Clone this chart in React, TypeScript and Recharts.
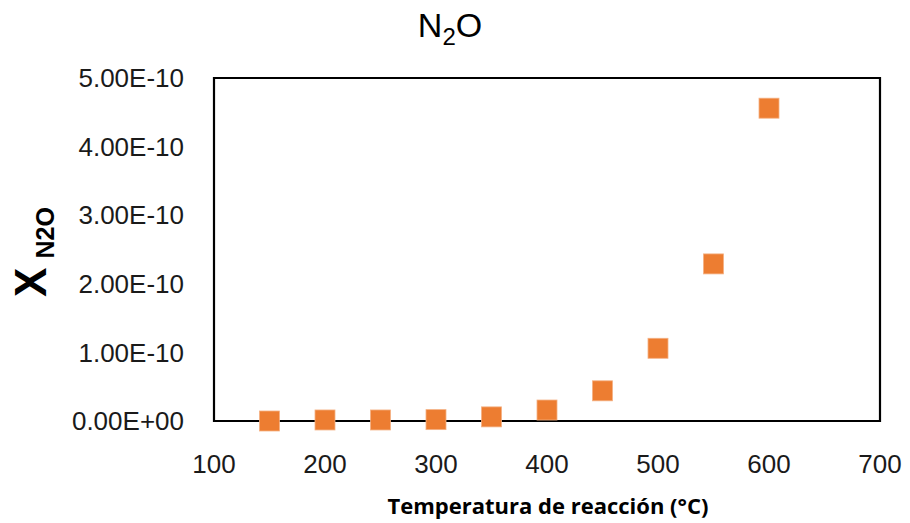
import { ScatterChart, Scatter, XAxis, YAxis, ReferenceArea } from 'recharts';

const temps = [150, 200, 250, 300, 350, 400, 450, 500, 550, 600];
const xN2O = [0.0, 1.5e-12, 1.5e-12, 2.0e-12, 6.0e-12, 1.6e-11, 4.4e-11, 1.06e-10, 2.29e-10, 4.56e-10];
const xTicks = [100, 200, 300, 400, 500, 600, 700];
const yTicks = [0, 1e-10, 2e-10, 3e-10, 4e-10, 5e-10];

const data = temps.map((t, i) => ({ t, x: xN2O[i] }));

const W = 910;
const H = 523;
const ORANGE = '#ED7D31';
const tickFont = { fill: '#1a1a1a', fontSize: 26, fontFamily: 'Liberation Sans, Arial, sans-serif' };

// Excel style scientific label: 5.00E-10, 0.00E+00
function sci(v: number): string {
  if (v === 0) return '0.00E+00';
  const exp = Math.floor(Math.log10(Math.abs(v)));
  const m = v / Math.pow(10, exp);
  const e = Math.abs(exp).toString().padStart(2, '0');
  return `${m.toFixed(2)}E${exp < 0 ? '-' : '+'}${e}`;
}

const Square = (p: { cx?: number; cy?: number }) => {
  const s = 20;
  if (p.cx == null || p.cy == null) return null;
  return <rect x={p.cx - s / 2} y={p.cy - s / 2} width={s} height={s} fill={ORANGE} stroke="#F4B183" strokeWidth={0.8} />;
};

export default function App() {
  return (
    <div style={{ position: 'absolute', left: 0, top: 0, width: W, height: H, background: '#fff' }}>
      <ScatterChart width={W} height={H} margin={{ top: 78, right: 30, bottom: 0, left: 0 }}>
        <XAxis
          type="number" dataKey="t" domain={[100, 700]} ticks={xTicks} height={102}
          tickLine={false} axisLine={false} tick={tickFont} tickMargin={28} interval={0}
        />
        <YAxis
          type="number" dataKey="x" domain={[0, 5e-10]} ticks={yTicks} width={214}
          tickLine={false} axisLine={false} tick={tickFont} tickMargin={24} tickFormatter={sci} interval={0}
        />
        <ReferenceArea x1={100} x2={700} y1={0} y2={5e-10} fill="none" stroke="#000" strokeWidth={2.2} fillOpacity={0} strokeOpacity={1} />
        <Scatter data={data} shape={<Square />} isAnimationActive={false} />
      </ScatterChart>
      <svg width={W} height={H} style={{ position: 'absolute', left: 0, top: 0, pointerEvents: 'none' }}>
        {/* title */}
        <text x={450} y={37} textAnchor="middle" fontSize={34} fontFamily="Liberation Sans, Arial, sans-serif" fill="#000">
          N<tspan fontSize={24} dy={8}>2</tspan><tspan dy={-8}>O</tspan>
        </text>
        {/* y axis title */}
        <g transform="translate(46, 252) rotate(-90)">
          <text x={0} y={0} textAnchor="middle" fontFamily="Liberation Sans, Arial, sans-serif" fontWeight="bold" fill="#000">
            <tspan fontSize={44}>X</tspan><tspan fontSize={25} dx={9} dy={8}>N2O</tspan>
          </text>
        </g>
        {/* x axis title */}
        <text x={548} y={514} textAnchor="middle" fontSize={22} fontWeight="bold" fontFamily="Open Sans, Liberation Sans, sans-serif" fill="#000">
          Temperatura de reacción (°C)
        </text>
      </svg>
    </div>
  );
}
